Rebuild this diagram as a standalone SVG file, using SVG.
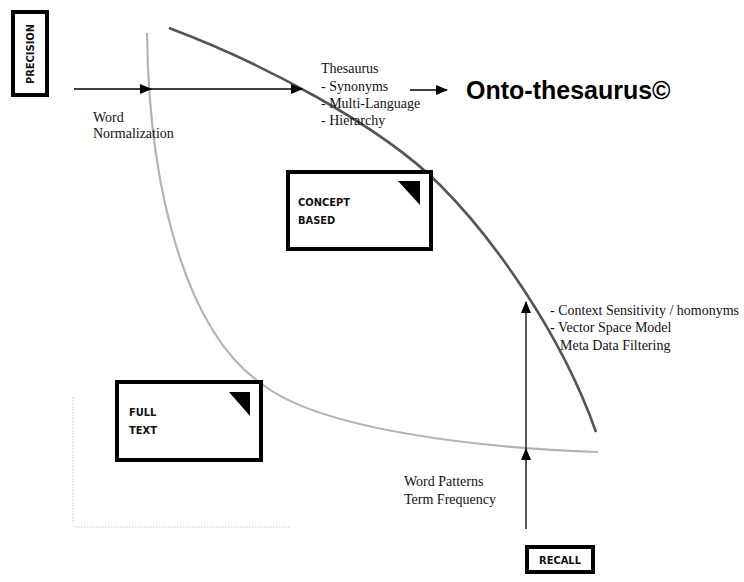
<svg xmlns="http://www.w3.org/2000/svg" width="744" height="582" viewBox="0 0 744 582">
<style>
.box{fill:#fff;stroke:#000;stroke-width:4}
.tri{fill:#000}
.lbl{font-family:"DejaVu Sans Condensed","DejaVu Sans",sans-serif;font-weight:bold;font-size:11px;fill:#111}
.serif{font-family:"Liberation Serif","Times New Roman",serif;font-size:14px;fill:#111}
.title{font-family:"Liberation Sans",Arial,sans-serif;font-weight:bold;font-size:25px;fill:#000}
.arr{stroke:#000;stroke-width:1.3;fill:none}
.axis{stroke:#c8c8c8;stroke-width:1;fill:none;stroke-dasharray:1.5 1.5}
</style>
<defs>
<marker id="ah" markerUnits="userSpaceOnUse" markerWidth="12" markerHeight="10" refX="11" refY="5" orient="auto">
<path d="M0,0 L12,5 L0,10 Z" fill="#000"/>
</marker>
</defs>
<rect width="744" height="582" fill="#fff"/>

<g id="axes">
<path class="axis" d="M73,397 L73,527 L290,527"/>
</g>

<g id="connectors">
<path d="M147,33 C149,200 190,335 262,384 C320,430 480,448 598,452" fill="none" stroke="#b4b4b4" stroke-width="2.2"/>
<path d="M169,28 C260,62 380,125 440,185 C490,235 560,330 596,432" fill="none" stroke="#555" stroke-width="2.6"/>
<line class="arr" x1="74" y1="89" x2="151" y2="89" marker-end="url(#ah)"/>
<line class="arr" x1="151" y1="89" x2="302" y2="89" marker-end="url(#ah)"/>
<line class="arr" x1="526" y1="529" x2="526" y2="449" marker-end="url(#ah)"/>
<line class="arr" x1="526" y1="449" x2="526" y2="302" marker-end="url(#ah)"/>
<line class="arr" x1="410" y1="90" x2="447" y2="90" marker-end="url(#ah)"/>
</g>

<g id="precision">
<rect class="box" x="13" y="12" width="34" height="83"/>
<text class="lbl" transform="translate(34,54) rotate(-90)" text-anchor="middle">PRECISION</text>
</g>

<g id="recall">
<rect class="box" x="527" y="547" width="66" height="25"/>
<text class="lbl" x="560" y="564" text-anchor="middle">RECALL</text>
</g>

<g id="concept-based">
<rect class="box" x="288" y="172" width="143" height="77"/>
<path class="tri" d="M398,181 L420,181 L420,205 Z"/>
<text class="lbl" x="298" y="206">CONCEPT</text>
<text class="lbl" x="298" y="224">BASED</text>
</g>

<g id="full-text">
<rect class="box" x="117" y="382" width="144" height="78"/>
<path class="tri" d="M229,392 L250,392 L250,416 Z"/>
<text class="lbl" x="129" y="416">FULL</text>
<text class="lbl" x="129" y="434">TEXT</text>
</g>

<g id="labels">
<text class="serif" x="93" y="122">Word</text>
<text class="serif" x="93" y="138">Normalization</text>
<text class="serif" x="321" y="73">Thesaurus</text>
<text class="serif" x="321" y="91">- Synonyms</text>
<text class="serif" x="321" y="108">- Multi-Language</text>
<text class="serif" x="321" y="125">- Hierarchy</text>
<text class="title" x="466" y="99">Onto-thesaurus©</text>
<text class="serif" x="550" y="315">- Context Sensitivity / homonyms</text>
<text class="serif" x="550" y="332">- Vector Space Model</text>
<text class="serif" x="560" y="350">Meta Data Filtering</text>
<text class="serif" x="404" y="486">Word Patterns</text>
<text class="serif" x="404" y="504">Term Frequency</text>
</g>
</svg>
